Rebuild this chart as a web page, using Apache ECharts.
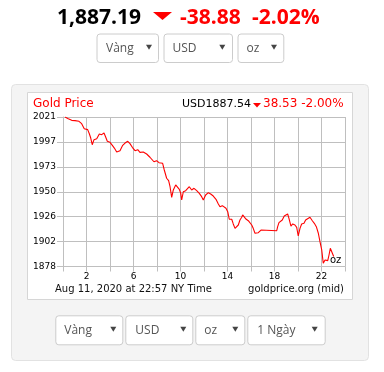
<!DOCTYPE html>
<html>
<head>
<meta charset="utf-8">
<script src="https://cdn.jsdelivr.net/npm/echarts@6/dist/echarts.min.js"></script>
<style>
html,body{margin:0;padding:0;background:#fff;}
#c{width:384px;height:372px;}
</style>
</head>
<body>
<div id="c"></div>
<script>
// ---- data ----
const hours = [0.17,0.45,0.74,1.02,1.17,1.36,1.59,1.81,1.96,2.10,2.24,2.36,2.49,2.64,2.87,3.09,3.29,3.49,3.63,3.77,4.00,4.20,4.37,4.57,4.85,5.08,5.28,5.51,5.70,5.90,6.13,6.36,6.55,6.83,7.12,7.40,7.74,7.97,8.17,8.34,8.48,8.62,8.82,8.99,9.11,9.25,9.39,9.59,9.76,9.90,10.02,10.10,10.24,10.44,10.61,10.75,10.95,11.15,11.38,11.60,11.80,11.94,12.14,12.37,12.57,12.79,13.02,13.22,13.36,13.56,13.73,13.87,14.02,14.15,14.36,14.49,14.64,14.78,14.92,15.06,15.21,15.29,15.43,15.57,15.77,15.91,16.06,16.19,16.34,16.48,16.62,16.70,16.85,16.96,18.19,18.27,18.38,18.53,18.66,18.83,18.98,19.12,19.23,19.40,19.55,19.74,19.89,20.02,20.17,20.31,20.51,20.65,20.82,21.02,21.22,21.39,21.56,21.73,21.87,22.02,22.15,22.30,22.44,22.53,22.64,22.75,22.87,22.95,23.04];
const prices = [2021.0,2019.4,2017.8,2017.5,2015.9,2016.9,2014.6,2009.8,2011.4,2008.9,2005.0,2000.9,1994.5,1999.3,2000.2,2004.7,2004.1,2005.7,2001.9,1997.8,1996.8,1993.9,1991.3,1987.5,1988.8,1993.9,1996.1,1997.8,1995.5,1992.0,1988.8,1989.7,1987.2,1987.5,1985.6,1982.5,1978.2,1979.2,1977.3,1979.2,1976.7,1970.3,1962.4,1960.1,1954.3,1944.2,1951.2,1956.0,1956.6,1951.8,1948.0,1941.6,1949.5,1950.5,1949.5,1954.3,1951.2,1952.8,1950.5,1948.0,1944.8,1941.6,1946.4,1948.6,1947.3,1945.4,1942.3,1937.8,1935.2,1936.2,1935.2,1933.7,1930.4,1923.2,1923.2,1918.7,1914.5,1915.5,1917.7,1922.5,1925.1,1927.3,1925.6,1923.4,1921.8,1919.9,1917.7,1914.5,1909.8,1908.8,1910.3,1909.1,1912.9,1912.2,1912.2,1916.1,1919.9,1918.7,1922.5,1926.3,1927.3,1928.2,1924.1,1916.7,1918.7,1917.7,1915.5,1907.2,1914.5,1918.7,1919.3,1922.5,1921.8,1925.1,1921.8,1919.3,1916.1,1909.8,1901.7,1893.8,1881.1,1884.2,1885.8,1883.6,1889.0,1895.4,1894.5,1890.0,1887.5];
const xTickLabels = [2,6,10,14,18,22];
const yMin = 1878, yMax = 2021;
const headerPrice = "1,887.19";
const headerChange = "-38.88";
const headerPct = "-2.02%";
const chartTitle = "Gold Price";
const chartQuote = "USD1887.54";
const chartChange = "38.53 -2.00%";
const dateText = "Aug 11, 2020 at 22:57 NY Time";
const sourceText = "goldprice.org (mid)";
const unitText = "oz";
const selectsTop = ["Vàng","USD","oz"];
const selectsBottom = ["Vàng","USD","oz","1 Ngày"];

const RED = '#ff0000';
const GRID = '#bfbfbf';
const CF = '"DejaVu Sans", sans-serif';
const OF = '"Open Sans", sans-serif';

const data = hours.map((h,i)=>[h,prices[i]]);

function tri(cx,cy,w,h,fill,z){
  return {type:'polygon', z:z||10, silent:true,
    shape:{points:[[cx-w/2,cy-h/2],[cx+w/2,cy-h/2],[cx,cy+h/2]]},
    style:{fill:fill}};
}
function selectBox(x,y,w,h,label,textX,arrowX){
  return [
    {type:'rect', z:5, silent:true, shape:{x:x+0.5,y:y+0.5,width:w,height:h,r:3},
     style:{fill:'#fff', stroke:'#cccccc', lineWidth:1}},
    {type:'text', z:6, silent:true, style:{text:label, x:textX, y:y+h/2+0.5, fill:'#555',
     font:'12px '+OF, textAlign:'left', textVerticalAlign:'middle'}},
    tri(arrowX, y+h/2-0.5, 6, 5, '#444', 6)
  ];
}

const graphics = [];
graphics.push({type:'rect', z:-100, silent:true, shape:{x:11.5,y:84.5,width:357,height:276,r:4},
  style:{fill:'#f4f4f4', stroke:'#e2e2e2', lineWidth:1}});
graphics.push({type:'rect', z:-99, silent:true, shape:{x:27.5,y:92.5,width:325,height:207},
  style:{fill:'#fff', stroke:'#d6d6d6', lineWidth:1}});
graphics.push({type:'text', z:10, silent:true, style:{text:headerPrice, x:57, y:18, fill:'#000',
  font:'bold 21px '+OF, textAlign:'left', textVerticalAlign:'middle'}});
graphics.push(tri(162.5,16,19,8,RED,10));
graphics.push({type:'text', z:10, silent:true, style:{text:headerChange, x:180, y:18, fill:RED,
  font:'bold 21px '+OF, textAlign:'left', textVerticalAlign:'middle'}});
graphics.push({type:'text', z:10, silent:true, style:{text:headerPct, x:252, y:18, fill:RED,
  font:'bold 21px '+OF, textAlign:'left', textVerticalAlign:'middle'}});
const topBoxes = [[96.5,61.5,106,149],[163.5,68.5,172.5,222.3],[237.5,45.8,246.5,274]];
selectsTop.forEach((s,i)=>{const b=topBoxes[i]; graphics.push(...selectBox(b[0],33.5,b[1],28.5,s,b[2],b[3]));});
const botBoxes = [[55.3,67,64.3,113.3],[125.3,67,135.3,183.3],[195.3,49,204.3,235.3],[247.3,77.4,257.3,314.7]];
selectsBottom.forEach((s,i)=>{const b=botBoxes[i]; graphics.push(...selectBox(b[0],315.3,b[1],29,s,b[2],b[3]));});
graphics.push({type:'text', z:10, silent:true, style:{text:chartTitle, x:33, y:104, fill:RED,
  font:'12px '+CF, textAlign:'left', textVerticalAlign:'middle'}});
graphics.push({type:'text', z:10, silent:true, style:{text:chartQuote, x:251, y:104, fill:'#000',
  font:'11px '+CF, textAlign:'right', textVerticalAlign:'middle'}});
graphics.push(tri(257,105.3,8,4.5,RED,10));
graphics.push({type:'text', z:10, silent:true, style:{text:chartChange, x:263, y:104, fill:RED,
  font:'12px '+CF, textAlign:'left', textVerticalAlign:'middle'}});
graphics.push({type:'text', z:10, silent:true, style:{text:dateText, x:55, y:289, fill:'#111',
  font:'10px '+CF, textAlign:'left', textVerticalAlign:'middle'}});
graphics.push({type:'text', z:10, silent:true, style:{text:sourceText, x:344, y:289, fill:'#111',
  font:'10px '+CF, textAlign:'right', textVerticalAlign:'middle'}});
graphics.push({type:'text', z:10, silent:true, style:{text:unitText, x:330, y:260, fill:'#000',
  font:'10px '+CF, textAlign:'left', textVerticalAlign:'middle'}});

const chart = echarts.init(document.getElementById('c'), null, {renderer:'canvas'});
chart.setOption({
  animation:false,
  backgroundColor:'transparent',
  grid:{left:63, top:117, width:282, height:149.5, containLabel:false},
  xAxis:{type:'value', min:0, max:24, interval:2,
    axisLine:{show:true, onZero:false, lineStyle:{color:GRID, width:1}},
    axisTick:{show:true, length:5, inside:false, lineStyle:{color:GRID}},
    splitLine:{show:true, lineStyle:{color:GRID, width:1}},
    axisLabel:{color:'#000', fontSize:9, fontFamily:CF, margin:6,
      formatter:v=> xTickLabels.indexOf(Math.round(v))>=0 ? String(Math.round(v)) : ''}
  },
  yAxis:{type:'value', min:yMin, max:yMax, interval:(yMax-yMin)/6,
    axisLine:{show:true, lineStyle:{color:GRID, width:1}},
    axisTick:{show:true, length:6, inside:false, lineStyle:{color:GRID}},
    splitLine:{show:true, lineStyle:{color:GRID, width:1}},
    axisLabel:{color:'#000', fontSize:9, fontFamily:CF, margin:7,
      formatter:v=>String(Math.round(v + 1e-6))}
  },
  series:[{type:'line', data:data, showSymbol:false, symbol:'none',
    lineStyle:{color:RED, width:1.1}, itemStyle:{color:RED}, z:5}],
  graphic:graphics
});
</script>
</body>
</html>
